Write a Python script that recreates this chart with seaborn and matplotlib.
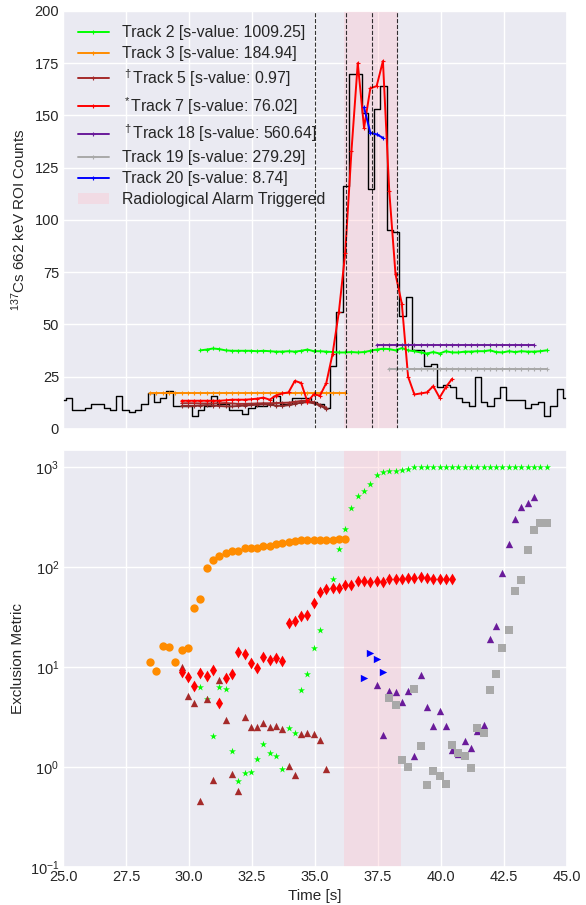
import numpy as np
import pandas as pd
import matplotlib
matplotlib.use("Agg")
import matplotlib.pyplot as plt
import seaborn as sns

# ---------------- data ----------------
DT = 0.25  # sample interval [s]

hist_start = 24.85
hist_counts = [14, 15, 9, 9, 10, 12, 12, 10, 9, 16,
               9, 8, 9, 12, 17, 13, 15, 18, 11, 11,
               11, 6, 9, 11, 16, 12, 12, 9, 9, 7,
               10, 11, 11, 12, 16, 12, 12, 15, 15, 15,
               13, 12, 10, 30, 56, 116, 170, 170, 151, 115,
               153, 164, 95, 94, 54, 63, 38, 38, 30, 31,
               20, 21, 20, 15, 13, 11, 25, 13, 11, 15,
               20, 14, 14, 14, 10, 12, 13, 6, 11, 19,
               15]

t2_start = 30.45
t2_counts = [37.6, 38.0, 38.5, 38.2, 37.6, 37.4, 37.4, 37.4, 37.4, 37.2,
             37.4, 37.2, 37.0, 37.0, 37.2, 37.0, 37.4, 38.0, 37.2, 37.2,
             37.0, 36.8, 36.6, 36.6, 36.8, 36.6, 36.8, 37.4, 38.0, 38.4,
             38.2, 37.6, 38.7, 37.6, 37.2, 36.6, 36.1, 36.8, 36.1, 37.2,
             36.6, 36.6, 37.0, 37.0, 37.2, 37.2, 37.6, 36.8, 36.6, 37.2,
             36.8, 37.2, 37.0, 37.0, 37.2, 37.6]
t2_metric = [6.4, 4.75, 2.06, 6.4, 5.98, 1.45, 0.72, 0.88, 0.9, 1.2,
             1.7, 1.37, 1.29, 0.96, 2.47, 2.17, 5.89, 8.45, 15.5, 23.6,
             60, 77, 151, 240, 392, 521, 575, 681, 832, 891,
             912, 912, 933, 970, 1008, 1009, 1009, 1009, 1009, 1009,
             1009, 1009, 1009, 1009, 1009, 1009, 1009, 1009, 1009, 1009,
             1009, 1009, 1009, 1009, 1009, 1009]

t3_start = 28.45
t3_counts = [17.0] * 32
t3_metric = [11.3, 9.12, 16.2, 15.85, 11.3, 15.0, 15.6, 39.5, 48.2, 98.5,
             119, 131, 138, 145, 146, 155, 157, 157, 163, 163,
             172, 173, 179, 183, 188, 189, 189, 188, 188, 189,
             192, 193]

t5_start = 29.7
t5_counts = [12.3, 12.3, 12.3, 12.2, 12.2, 12.2, 12.3, 12.4, 12.2, 12.0,
             12.0, 12.1, 12.2, 12.3, 12.3, 12.4, 12.5, 12.6, 13.0, 13.4,
             13.4, 12.8, 11.5, 10.2]
t5b_counts = [11.0, 11.0, 11.0, 11.2, 11.4, 11.2, 11.0, 10.8, 10.8, 11.0,
              11.2, 11.4, 11.6, 11.8, 11.6, 11.2, 11.0, 11.4, 12.0, 12.6,
              12.8, 12.3, 11.2, 9.6]
t5_metric = [10.0, 5.13, 4.33, 0.46, 4.75, 0.74, 7.41, 2.97, 0.845, 0.575,
             3.19, 2.53, 2.53, 2.75, 2.51, 2.59, 2.38, 1.03, 0.84, 2.14,
             2.2, 2.12, 1.88, 0.955]

t7_start = 29.7
t7_counts = [13.5, 13.5, 13.5, 13.5, 13.5, 13.5, 13.5, 13.7, 14.0, 14.0,
             14.0, 14.2, 14.5, 15.0, 14.0, 16.0, 17.0, 17.5, 23.0, 22.0,
             13.0, 16.5, 16.0, 22.0, 36.0, 56.0, 84.0, 133.0, 175.0, 144.0,
             163.0, 164.0, 176.0, 114.0, 74.0, 60.0, 25.0, 16.5, 17.0, 17.5,
             20.5, 15.0, 20.0, 24.0]
t7_metric = [9.0, 7.9, 6.5, 8.7, 8.1, 9.3, 4.4, 7.8, 8.6, 14.3,
             13.5, 11.1, 9.9, 12.6, 11.7, 12.5, 11.6, 28, 29, 32.4,
             33.6, 43.7, 57, 60.3, 62.6, 61.7, 66, 67, 73, 73,
             71.4, 73, 72, 76.4, 76, 77, 78.8, 78.8, 79.8, 78,
             77, 76.5, 76.5, 76.5]

t18_start = 37.45
t18_counts = [40.0] * 26
t18_metric = [6.56, 2.1, 5.8, 5.6, 4.5, 5.8, 1.29, 8.3, 4.0, 2.57,
              3.63, 2.57, 1.47, 1.34, 1.83, 1.54, 2.3, 2.61, 19.3, 25.8,
              87.7, 171, 304, 404, 443, 509]

t19_start = 37.95
t19_counts = [28.7] * 26
t19_metric = [4.94, 4.17, 1.19, 1.0, 6.07, 1.62, 0.656, 0.91, 0.81, 0.67,
              1.66, 1.39, 1.3, 0.98, 2.45, 2.17, 5.93, 8.45, 15.4, 23.4,
              58, 75.3, 150, 236, 277, 277]

t20_start = 36.95
t20_counts = [153.8, 141.7, 140.9, 139.3]
t20_metric = [7.8, 13.8, 12.0, 9.05]

track_labels = ["Track 2 [s-value: 1009.25]",
                "Track 3 [s-value: 184.94]",
                r"$^\dagger$Track 5 [s-value: 0.97]",
                r"$^*$Track 7 [s-value: 76.02]",
                r"$^\dagger$Track 18 [s-value: 560.64]",
                "Track 19 [s-value: 279.29]",
                "Track 20 [s-value: 8.74]"]
track_colors = ["lime", "darkorange", "brown", "red", "#6a1b9a", "darkgray", "blue"]
track_markers = ["*", "o", "^", "d", "^", "s", ">"]
marker_sizes = [28, 36, 28, 36, 28, 28, 28]

alarm_label = "Radiological Alarm Triggered"
alarm_span_top = (36.15, 38.28)
alarm_span_bottom = (36.15, 38.4)
dashed_times = [35.0, 36.25, 37.25, 38.25]

xlim = (25.0, 45.0)
xticks = [25.0, 27.5, 30.0, 32.5, 35.0, 37.5, 40.0, 42.5, 45.0]
top_yticks = [0, 25, 50, 75, 100, 125, 150, 175, 200]
bot_ylim = (0.1, 1500)

tracks = [
    (t2_start, t2_counts, t2_metric),
    (t3_start, t3_counts, t3_metric),
    (t5_start, t5_counts, t5_metric),
    (t7_start, t7_counts, t7_metric),
    (t18_start, t18_counts, t18_metric),
    (t19_start, t19_counts, t19_metric),
    (t20_start, t20_counts, t20_metric),
]

# ---------------- style ----------------
sns.set_theme(style="darkgrid")
plt.rcParams["font.family"] = ["Liberation Sans", "DejaVu Sans"]
plt.rcParams["mathtext.fontset"] = "custom"
plt.rcParams["mathtext.rm"] = "Liberation Sans"
plt.rcParams["mathtext.it"] = "Liberation Sans:italic"

fig = plt.figure(figsize=(5.86, 9.05), dpi=100)
ax1 = fig.add_axes([0.108, 0.526, 0.859, 0.462])
ax2 = fig.add_axes([0.108, 0.042, 0.859, 0.461])

# ---------------- top panel ----------------
edges = hist_start + DT * np.arange(len(hist_counts) + 1)
step_y = list(hist_counts) + [hist_counts[-1]]
sns.lineplot(x=edges, y=step_y, drawstyle="steps-post", color="black",
             lw=1.0, estimator=None, sort=False, ax=ax1)

line_kw = dict(lw=1.4, marker="+", markersize=3.5, mew=0.8)
for i, ((t0, counts, _), lab, col) in enumerate(zip(tracks, track_labels, track_colors)):
    tt = t0 + DT * np.arange(len(counts))
    sns.lineplot(x=tt, y=counts, color=col, mec=col, label=lab, ax=ax1, **line_kw)
    if i == 2:
        tb = t5_start + DT * np.arange(len(t5b_counts))
        sns.lineplot(x=tb, y=t5b_counts, color="#8b2a2a", mec="#8b2a2a",
                     ax=ax1, **line_kw)

ax1.axvspan(*alarm_span_top, color="pink", alpha=0.35, lw=0, label=alarm_label)
for xv in dashed_times:
    ax1.axvline(xv, color="black", ls="--", lw=0.8, alpha=0.8)

ax1.set_xlim(*xlim)
ax1.set_ylim(0, 200)
ax1.set_xticks(xticks)
ax1.set_yticks(top_yticks)
ax1.set_xticklabels([])
ax1.set_xlabel("")
ax1.set_ylabel(r"$^{137}$Cs 662 keV ROI Counts", fontsize=11, labelpad=5)
ax1.tick_params(labelsize=10.5, length=0, pad=3)
ax1.legend(loc="upper left", frameon=False, fontsize=11.4, handlelength=2.0,
           labelspacing=0.38)

# ---------------- bottom panel ----------------
ax2.axvspan(*alarm_span_bottom, color="pink", alpha=0.35, lw=0)
for (t0, _, metric), col, mk, sz in zip(tracks, track_colors, track_markers, marker_sizes):
    tt = t0 + DT * np.arange(len(metric))
    sns.scatterplot(x=tt, y=metric, color=col, marker=mk, s=sz,
                    linewidth=0, ax=ax2, legend=False)

ax2.set_yscale("log")
ax2.set_xlim(*xlim)
ax2.set_ylim(*bot_ylim)
ax2.set_xticks(xticks)
ax2.set_xticklabels([f"{v:.1f}" for v in xticks])
ax2.set_xlabel("Time [s]", fontsize=11)
ax2.set_ylabel("Exclusion Metric", fontsize=11, labelpad=3)
ax2.tick_params(labelsize=10.5, length=0, pad=3)
ax2.tick_params(axis="x", pad=2)
ax2.tick_params(axis="y", which="minor", length=0)

fig.savefig("out.png", dpi=100)
